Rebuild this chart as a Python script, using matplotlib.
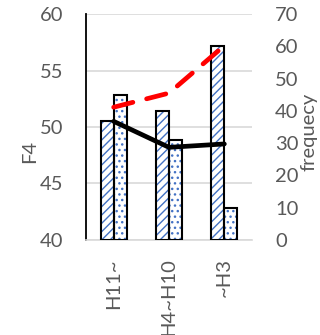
import matplotlib
matplotlib.use("Agg")
import matplotlib.pyplot as plt

# data
categories = ["H11~", "H4~H10", "~H3"]
freq_a = [37, 40, 60]        # hatched bars (right axis)
freq_b = [45, 31, 10]        # dotted bars (right axis)
f4_black = [50.5, 48.2, 48.5]
f4_red = [51.75, 53.0, 57.2]

plt.rcParams["font.family"] = ["Lato", "DejaVu Sans"]
plt.rcParams["hatch.linewidth"] = 1.0
grey = "#595959"
blue = "#4472C4"
fs = 14.5

fig = plt.figure(figsize=(3.2, 3.35), dpi=100)
ax = fig.add_axes([86 / 320, 95 / 335, 166 / 320, 226 / 335])
ax2 = ax.twinx()
ax3 = ax.twinx()

x = list(range(len(categories)))
w = 0.235

# left axis: grid + ticks
ax.set_xlim(-0.5, 2.5)
ax.set_ylim(40, 60)
ax.set_yticks([40, 45, 50, 55, 60])
ax.yaxis.grid(True, color="#d9d9d9", lw=1.2)
ax.set_axisbelow(True)
ax.tick_params(axis="y", length=0, pad=16.5, labelsize=fs, labelcolor=grey)
ax.tick_params(axis="x", length=0, pad=13, labelsize=fs, labelcolor=grey)
ax.set_xticks(x)
ax.set_xticklabels(categories, rotation=90, va="top", ha="center")
for s in ["top", "right"]:
    ax.spines[s].set_visible(False)
ax.spines["left"].set_color("black")
ax.spines["left"].set_linewidth(1.3)
ax.spines["bottom"].set_color("#d9d9d9")
ax.spines["bottom"].set_linewidth(1.2)

# right axis: bars
xa = [i - w / 2 for i in x]
xb = [i + w / 2 for i in x]
ax2.bar(xa, freq_a, w, color="white", edgecolor=blue, hatch="////", lw=0)
ax2.bar(xb, freq_b, w, color="white", edgecolor=blue, hatch="...", lw=0)
ax2.bar(xa, freq_a, w, fill=False, edgecolor="black", lw=1.5)
ax2.bar(xb, freq_b, w, fill=False, edgecolor="black", lw=1.5)
ax2.set_ylim(0, 70)
ax2.set_yticks(range(0, 71, 10))
ax2.tick_params(axis="y", length=0, pad=16.5, labelsize=fs, labelcolor=grey)
for s in ax2.spines.values():
    s.set_visible(False)

# lines on top
ax3.set_ylim(40, 60)
ax3.plot(x, f4_black, color="black", lw=3.4, solid_capstyle="round")
ax3.plot(x, f4_red, color="#ff0000", lw=3.4, ls=(0, (4.2, 3.0)),
         dash_capstyle="round")
ax3.set_yticks([])
for s in ax3.spines.values():
    s.set_visible(False)

fig.text(30 / 320, 1 - 151 / 335, "F4", rotation=90, ha="center", va="center",
         fontsize=fs, color=grey)
fig.text(309 / 320, 1 - 132 / 335, "frequecy", rotation=90, ha="center",
         va="center", fontsize=fs, color=grey)

fig.savefig("out.png", dpi=100)
